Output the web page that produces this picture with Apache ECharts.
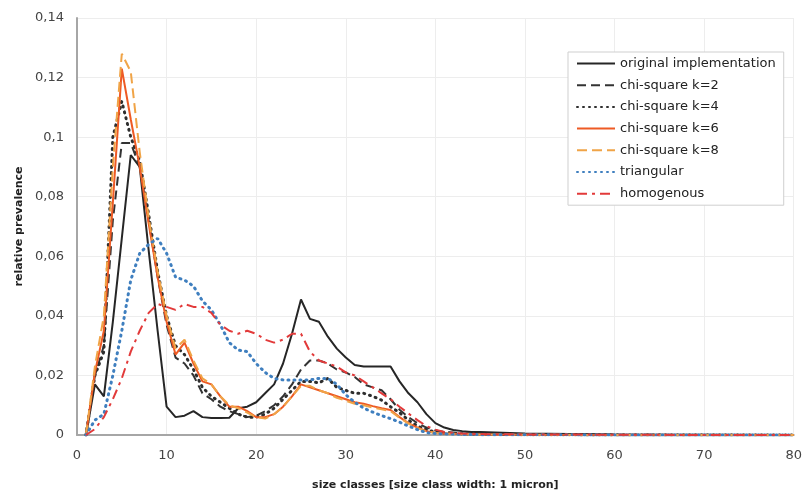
<!DOCTYPE html>
<html>
<head>
<meta charset="utf-8">
<script src="https://cdn.jsdelivr.net/npm/echarts@6/dist/echarts.min.js"></script>
<style>
  html, body { margin: 0; padding: 0; background: #fff; }
  #chart { width: 805px; height: 497px; }
</style>
</head>
<body>
<div id="chart"></div>
<script>
// size classes (micron)
const sizes = [1, 2, 3, 4, 5, 6, 7, 8, 9, 10,
  11, 12, 13, 14, 15, 16, 17, 18, 19, 20,
  21, 22, 23, 24, 25, 26, 27, 28, 29, 30,
  31, 32, 33, 34, 35, 36, 37, 38, 39, 40,
  41, 42, 43, 44, 45, 50, 60, 70, 80];

const original = [0, 0.017, 0.013, 0.038, 0.066, 0.094, 0.09, 0.062, 0.035, 0.0095,
  0.006, 0.0065, 0.008, 0.006, 0.0057, 0.0057, 0.0058, 0.009, 0.0095, 0.011,
  0.014, 0.017, 0.024, 0.034, 0.0455, 0.039, 0.038, 0.033, 0.029, 0.026,
  0.0235, 0.023, 0.023, 0.023, 0.023, 0.018, 0.014, 0.011, 0.007, 0.004,
  0.0025, 0.0017, 0.0013, 0.001, 0.001, 0.0005, 0.0002, 0.0001, 0];

const chiK2 = [0, 0.02, 0.03, 0.072, 0.098, 0.098, 0.09, 0.072, 0.053, 0.037,
  0.026, 0.024, 0.02, 0.014, 0.012, 0.0095, 0.008, 0.007, 0.006, 0.0065,
  0.008, 0.01, 0.013, 0.017, 0.022, 0.025, 0.025, 0.024, 0.022, 0.021,
  0.0195, 0.017, 0.016, 0.015, 0.012, 0.0085, 0.006, 0.004, 0.0025, 0.0015,
  0.001, 0.0008, 0.0006, 0.0005, 0.0004, 0.0002, 0.0001, 0, 0];

const chiK4 = [0, 0.02, 0.028, 0.1, 0.112, 0.1, 0.092, 0.074, 0.055, 0.04,
  0.03, 0.027, 0.022, 0.016, 0.013, 0.011, 0.009, 0.007, 0.006, 0.006,
  0.007, 0.009, 0.012, 0.015, 0.018, 0.018, 0.0175, 0.019, 0.016, 0.015,
  0.014, 0.014, 0.013, 0.0117, 0.0095, 0.0075, 0.005, 0.003, 0.0018, 0.001,
  0.0007, 0.0005, 0.0004, 0.0003, 0.0003, 0.0001, 0, 0, 0];

const chiK6 = [0, 0.021, 0.035, 0.078, 0.123, 0.106, 0.09, 0.071, 0.053, 0.038,
  0.027, 0.031, 0.024, 0.018, 0.017, 0.013, 0.0095, 0.0095, 0.008, 0.006,
  0.006, 0.007, 0.0095, 0.013, 0.017, 0.016, 0.015, 0.014, 0.013, 0.012,
  0.011, 0.0105, 0.0097, 0.009, 0.0084, 0.006, 0.004, 0.0025, 0.0013, 0.0007,
  0.0005, 0.0004, 0.0003, 0.0003, 0.0002, 0.0001, 0, 0, 0];

const chiK8 = [0, 0.023, 0.04, 0.09, 0.128, 0.122, 0.095, 0.073, 0.055, 0.04,
  0.029, 0.032, 0.025, 0.019, 0.017, 0.013, 0.01, 0.009, 0.0075, 0.006,
  0.0055, 0.007, 0.0095, 0.013, 0.0165, 0.0165, 0.015, 0.014, 0.0125, 0.0115,
  0.0105, 0.01, 0.0092, 0.0086, 0.008, 0.0058, 0.0038, 0.0023, 0.0012, 0.0007,
  0.0005, 0.0004, 0.0003, 0.0002, 0.0002, 0.0001, 0, 0, 0];

const triangular = [0, 0.005, 0.007, 0.02, 0.035, 0.052, 0.061, 0.064, 0.066, 0.061,
  0.053, 0.052, 0.05, 0.045, 0.042, 0.037, 0.031, 0.0285, 0.028, 0.024,
  0.021, 0.019, 0.0185, 0.0185, 0.0185, 0.0185, 0.019, 0.019, 0.017, 0.0135,
  0.011, 0.009, 0.0077, 0.0065, 0.0055, 0.0043, 0.003, 0.0018, 0.0008, 0.0005,
  0.0004, 0.0003, 0.0002, 0.0002, 0.0001, 0.0001, 0, 0, 0];

const homogenous = [0, 0.002, 0.006, 0.012, 0.019, 0.028, 0.035, 0.041, 0.044, 0.043,
  0.042, 0.044, 0.043, 0.043, 0.041, 0.037, 0.035, 0.034, 0.035, 0.034,
  0.032, 0.031, 0.032, 0.034, 0.034, 0.028, 0.025, 0.024, 0.023, 0.021,
  0.02, 0.018, 0.016, 0.014, 0.012, 0.0095, 0.0072, 0.005, 0.003, 0.0018,
  0.001, 0.0007, 0.0005, 0.0004, 0.0003, 0.0002, 0.0001, 0, 0];

const yTicks = [0, 0.02, 0.04, 0.06, 0.08, 0.1, 0.12, 0.14];

const font = "DejaVu Sans";

const pairs = (vals) => sizes.map((s, i) => [s, vals[i]]);

const makeLine = (name, vals, color, type, width, cap) => ({
  name: name,
  type: "line",
  data: pairs(vals),
  showSymbol: false,
  symbol: "none",
  smooth: false,
  lineStyle: { color: color, width: width, type: type, cap: cap || "butt" },
  itemStyle: { color: color },
});

const chart = echarts.init(document.getElementById("chart"), null, { renderer: "canvas" });

const option = {
  backgroundColor: "#fff",
  animation: false,
  textStyle: { fontFamily: font },
  grid: { left: 77, right: 10, top: 18, bottom: 62 },
  legend: {
    orient: "vertical",
    left: 568,
    top: 52,
    padding: [5, 8, 5, 8],
    itemWidth: 38,
    itemHeight: 14,
    itemGap: 8.7,
    itemTextGap: 3,
    backgroundColor: "#fff",
    borderColor: "#cfcfcf",
    borderWidth: 1,
    itemStyle: { opacity: 0 },
    textStyle: { fontFamily: font, fontSize: 13, color: "#222" },
  },
  xAxis: {
    type: "value",
    min: 0,
    max: 80,
    interval: 10,
    name: "size classes [size class width: 1 micron]",
    nameLocation: "middle",
    nameGap: 45,
    nameTextStyle: { fontFamily: font, fontSize: 11, fontWeight: "bold", color: "#222" },
    axisLine: { show: true, lineStyle: { color: "#a6a6a6", width: 2 } },
    axisTick: { show: false },
    axisLabel: { fontFamily: font, fontSize: 13, color: "#444", margin: 14 },
    splitLine: { show: true, lineStyle: { color: "#ededed", width: 1 } },
  },
  yAxis: {
    type: "value",
    min: 0,
    max: 0.14,
    interval: 0.02,
    name: "relative prevalence",
    nameLocation: "middle",
    nameGap: 47,
    nameTextStyle: { fontFamily: font, fontSize: 11, fontWeight: "bold", color: "#222" },
    axisLine: { show: true, lineStyle: { color: "#a6a6a6", width: 2 } },
    axisTick: { show: false },
    axisLabel: {
      fontFamily: font,
      fontSize: 13,
      color: "#444",
      margin: 13,
      formatter: (v) => {
        const hit = yTicks.find((t) => Math.abs(t - v) < 1e-9);
        return String(hit !== undefined ? hit : v).replace(".", ",");
      },
    },
    splitLine: { show: true, lineStyle: { color: "#ededed", width: 1 } },
  },
  series: [
    makeLine("original implementation", original, "#262626", "solid", 2),
    makeLine("chi-square k=2", chiK2, "#333333", [9, 5], 2),
    makeLine("chi-square k=4", chiK4, "#2e2e2e", [1, 5], 3, "round"),
    makeLine("chi-square k=6", chiK6, "#ee5a24", "solid", 2),
    makeLine("chi-square k=8", chiK8, "#f0a447", [10, 5], 2),
    makeLine("triangular", triangular, "#3f7fbf", [1, 5], 3, "round"),
    makeLine("homogenous", homogenous, "#e23a3a", [10, 5, 3, 5], 2),
  ],
};

chart.setOption(option);
</script>
</body>
</html>
